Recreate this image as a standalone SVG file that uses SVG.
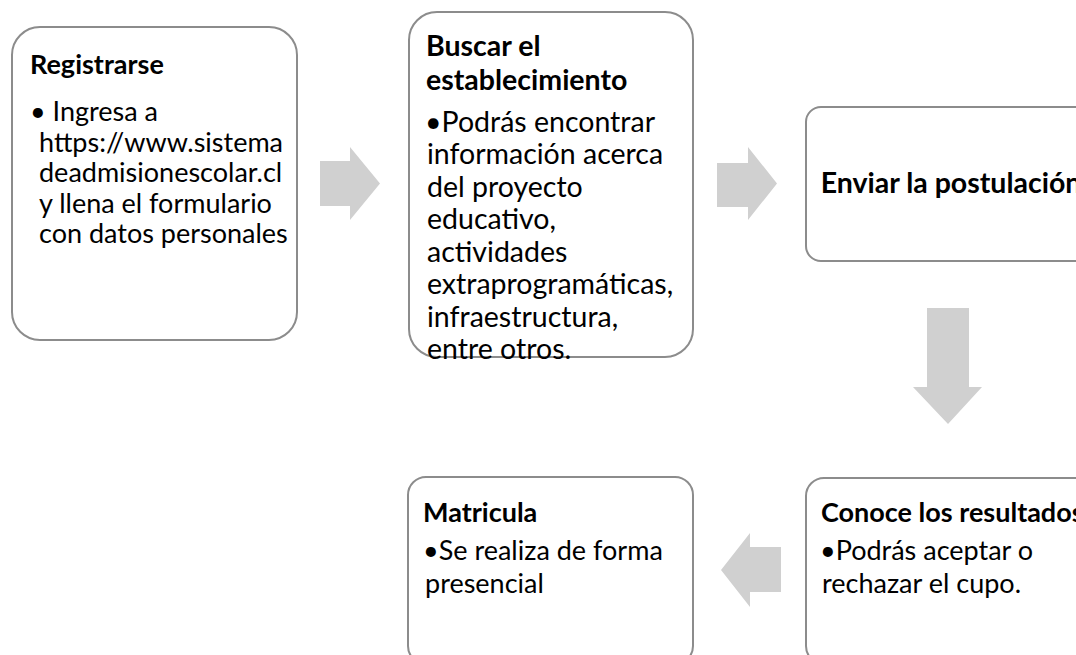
<svg xmlns="http://www.w3.org/2000/svg" width="1076" height="655" viewBox="0 0 1076 655">
<style>
.box{fill:#ffffff;stroke:#8c8c8c;stroke-width:2}
.arr{fill:#d0d0d0;stroke:none}
text{font-family:Lato,"Liberation Sans",sans-serif;fill:#000000}
.t{font-weight:bold}
.s1{font-size:27px}
.s2{font-size:28.5px}
</style>
<rect width="1076" height="655" fill="#ffffff"/>
<g id="connectors">
<polygon class="arr" points="320,161 350,161 350,147 380,183.5 350,220 350,206 320,206"/>
<polygon class="arr" points="717,163 748,163 748,147 777,183.5 748,220 748,207 717,207"/>
<polygon class="arr" points="927,308 969,308 969,387 982,387 948,424 913,387 927,387"/>
<polygon class="arr" points="781,547 750,547 750,533 721,570 750,607 750,592 781,592"/>
</g>
<g id="node-registrarse">
<rect class="box" x="12" y="27" width="285" height="313" rx="28"/>
<text class="t s1" x="30" y="74">Registrarse</text>
<text class="s1" x="30" y="121">• Ingresa a</text>
<text class="s1" x="39" y="151.5">https://www.sistema</text>
<text class="s1" x="39" y="182">deadmisionescolar.cl</text>
<text class="s1" x="39" y="212.5">y llena el formulario</text>
<text class="s1" x="39" y="243">con datos personales</text>
</g>
<g id="node-buscar">
<rect class="box" x="409" y="12" width="284" height="345" rx="28"/>
<text class="t s2" x="426" y="56">Buscar el</text>
<text class="t s2" x="426" y="90">establecimiento</text>
<text class="s2" x="425" y="131.5">•Podrás encontrar</text>
<text class="s2" x="427" y="164">información acerca</text>
<text class="s2" x="427" y="196.5">del proyecto</text>
<text class="s2" x="427" y="229">educativo,</text>
<text class="s2" x="427" y="261.5">actividades</text>
<text class="s2" x="427" y="294">extraprogramáticas,</text>
<text class="s2" x="427" y="326.5">infraestructura,</text>
<text class="s2" x="427" y="359">entre otros.</text>
</g>
<g id="node-enviar">
<rect class="box" x="806" y="107" width="290" height="154" rx="15"/>
<text class="t s2" x="951" y="193" text-anchor="middle">Enviar la postulación</text>
</g>
<g id="node-conoce">
<rect class="box" x="806" y="478" width="290" height="186" rx="18"/>
<text class="t s1" x="821" y="522">Conoce los resultados</text>
<text class="s1" x="820" y="560">•Podrás aceptar o</text>
<text class="s1" x="822" y="593">rechazar el cupo.</text>
</g>
<g id="node-matricula">
<rect class="box" x="408" y="477" width="285" height="187" rx="18"/>
<text class="t s1" x="423" y="522">Matricula</text>
<text class="s1" x="423" y="560">•Se realiza de forma</text>
<text class="s1" x="425" y="593">presencial</text>
</g>
</svg>
